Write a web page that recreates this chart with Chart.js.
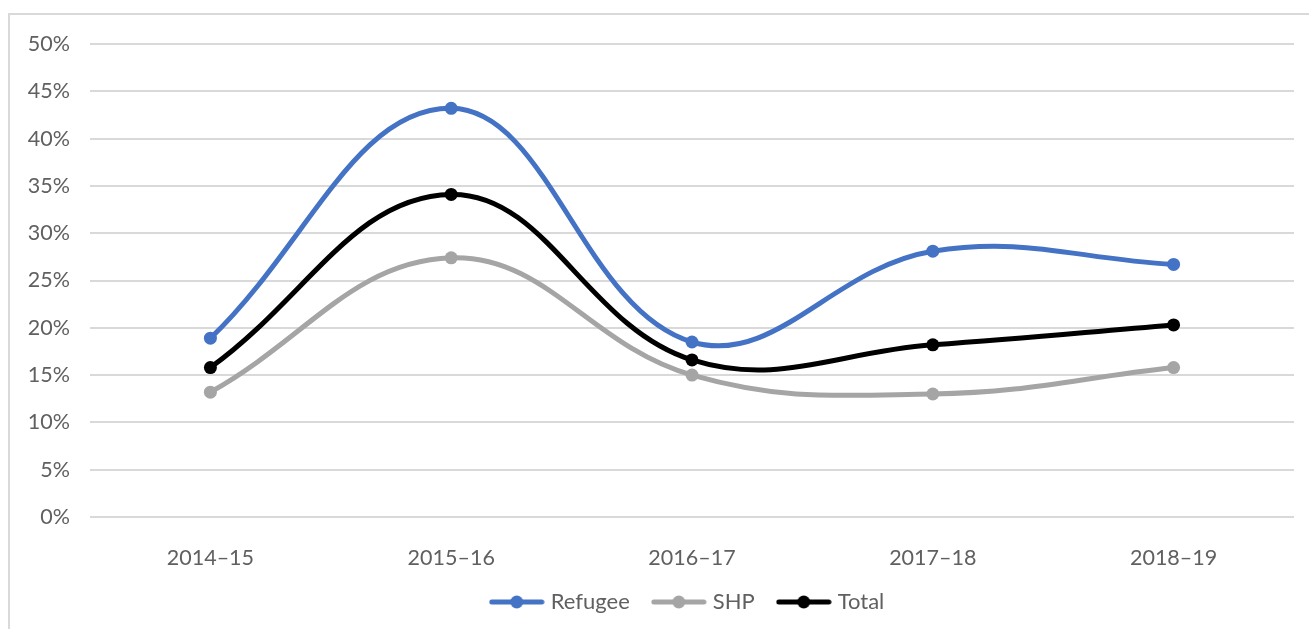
<!doctype html>
<html lang="en">
  <head>
    <meta charset="UTF-8" />
    <title>Refugee / SHP / Total</title>
    <script src="https://cdn.jsdelivr.net/npm/chart.js"></script>
    <style>
      html, body { margin: 0; padding: 0; background: #fff; }
      #wrap { position: relative; width: 1309px; height: 629px; overflow: hidden; }
      #frame {
        position: absolute; left: 8px; top: 13px; width: 1400px; height: 700px;
        border-top: 2px solid #d9d9d9; border-left: 2px solid #d9d9d9;
      }
      #chart { position: absolute; left: 0; top: 0; }
    </style>
  </head>
  <body>
    <div id="wrap">
      <div id="frame"></div>
      <canvas id="chart" width="1309" height="629"></canvas>
    </div>

    <script>
      const years = ["2014–15", "2015–16", "2016–17", "2017–18", "2018–19"];
      const refugee = [18.9, 43.2, 18.5, 28.1, 26.7];
      const shp = [13.2, 27.4, 15.0, 13.0, 15.8];
      const total = [15.8, 34.1, 16.6, 18.2, 20.3];

      const fontFamily = "Lato, 'Liberation Sans', sans-serif";
      const textColor = "#606060";

      // legend marker: short line with a dot in the middle
      function legendMarker(color) {
        const c = document.createElement("canvas");
        c.width = 56;
        c.height = 16;
        const g = c.getContext("2d");
        g.strokeStyle = color;
        g.lineWidth = 5;
        g.lineCap = "round";
        g.beginPath();
        g.moveTo(3, 8);
        g.lineTo(53, 8);
        g.stroke();
        g.fillStyle = color;
        g.beginPath();
        g.arc(28, 8, 6.5, 0, Math.PI * 2);
        g.fill();
        return c;
      }

      function series(label, data, color) {
        return {
          label: label,
          data: data,
          borderColor: color,
          backgroundColor: color,
          borderWidth: 5,
          pointRadius: 6.5,
          pointHoverRadius: 6.5,
          pointBorderWidth: 0,
          pointStyle: "circle",
          tension: 0.4,
          fill: false,
        };
      }

      const markers = {
        Refugee: legendMarker("#4472c4"),
        SHP: legendMarker("#a5a5a5"),
        Total: legendMarker("#000000"),
      };

      // the legend in the original sits a little right of the canvas centre
      const legendShift = {
        id: "legendShift",
        afterLayout(chart) {
          if (chart.legend) {
            chart.legend.left += 42;
            chart.legend.right += 42;
          }
        },
      };

      new Chart(document.getElementById("chart"), {
        type: "line",
        data: {
          labels: years,
          datasets: [
            series("Refugee", refugee, "#4472c4"),
            series("SHP", shp, "#a5a5a5"),
            series("Total", total, "#000000"),
          ],
        },
        plugins: [legendShift],
        options: {
          responsive: false,
          animation: false,
          layout: { padding: { left: 0, top: 44, right: 15, bottom: 6 } },
          plugins: {
            tooltip: { enabled: false },
            legend: {
              position: "bottom",
              labels: {
                usePointStyle: true,
                pointStyleWidth: 46,
                padding: 26,
                color: textColor,
                font: { family: fontFamily, size: 22 },
                generateLabels: (chart) =>
                  chart.data.datasets.map((ds, i) => ({
                    text: ds.label,
                    pointStyle: markers[ds.label],
                    fillStyle: ds.borderColor,
                    strokeStyle: ds.borderColor,
                    lineWidth: 0,
                    fontColor: textColor,
                    datasetIndex: i,
                    hidden: false,
                  })),
              },
            },
          },
          scales: {
            x: {
              offset: true,
              grid: { display: false },
              border: { display: false },
              ticks: {
                color: textColor,
                padding: 20,
                font: { family: fontFamily, size: 21.5 },
              },
              afterFit: (scale) => { scale.height = 48; },
            },
            y: {
              min: 0,
              max: 50,
              border: { display: false },
              grid: { color: "#d9d9d9", lineWidth: 2, drawTicks: false },
              ticks: {
                stepSize: 5,
                padding: 20,
                color: textColor,
                font: { family: fontFamily, size: 21.5 },
                callback: (v) => v + "%",
              },
              afterFit: (scale) => { scale.width = 90; },
            },
          },
        },
      });
    </script>
  </body>
</html>
